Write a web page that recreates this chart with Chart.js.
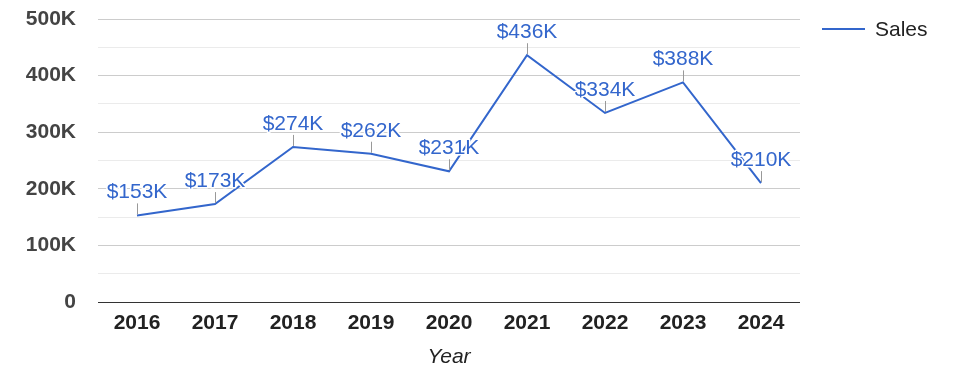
<!DOCTYPE html>
<html>
<head>
<meta charset="utf-8">
<script src="https://cdn.jsdelivr.net/npm/chart.js@4/dist/chart.umd.min.js"></script>
<style>
html,body{margin:0;padding:0;background:#fff;}
#wrap{width:975px;height:378px;position:relative;}
</style>
</head>
<body>
<div id="wrap"><canvas id="c" width="975" height="378"></canvas></div>
<script>
const years = ['2016','2017','2018','2019','2020','2021','2022','2023','2024'];
const sales = [153000, 173000, 274000, 262000, 231000, 436000, 334000, 388000, 210000];
const seriesName = 'Sales';
const axisTitle = 'Year';
const yMin = 0, yMax = 500000, yMinorStep = 50000, yMajorStep = 100000;

const FONT = "'Liberation Sans', Arial, Helvetica, sans-serif";
const BLUE = '#3366cc';

function fmtK(v){ return v === 0 ? '0' : (v/1000) + 'K'; }
function fmtMoney(v){ return '$' + Math.round(v/1000) + 'K'; }

const annotations = {
  id: 'annotations',
  afterDatasetsDraw(chart){
    const ctx = chart.ctx;
    const meta = chart.getDatasetMeta(0);
    const data = chart.data.datasets[0].data;
    ctx.save();
    meta.data.forEach((pt, i) => {
      const x = Math.round(pt.x) + 0.5, y = pt.y;
      ctx.strokeStyle = '#999999';
      ctx.lineWidth = 1;
      ctx.beginPath();
      ctx.moveTo(x, y - 1);
      ctx.lineTo(x, y - 12);
      ctx.stroke();
      ctx.font = '21px ' + FONT;
      ctx.textAlign = 'center';
      ctx.textBaseline = 'alphabetic';
      ctx.lineJoin = 'round';
      ctx.strokeStyle = '#ffffff';
      ctx.lineWidth = 3;
      const t = fmtMoney(data[i]);
      ctx.strokeText(t, pt.x, y - 17);
      ctx.fillStyle = BLUE;
      ctx.fillText(t, pt.x, y - 17);
    });
    ctx.restore();
  }
};

const sideLegend = {
  id: 'sideLegend',
  afterDraw(chart){
    const ctx = chart.ctx;
    const ds = chart.data.datasets[0];
    const area = chart.chartArea;
    const lx = area.right + 22, ly = area.top + 10;
    ctx.save();
    ctx.strokeStyle = ds.borderColor;
    ctx.lineWidth = 2;
    ctx.beginPath();
    ctx.moveTo(lx, ly);
    ctx.lineTo(lx + 43, ly);
    ctx.stroke();
    ctx.font = '21px ' + FONT;
    ctx.fillStyle = '#222222';
    ctx.textAlign = 'left';
    ctx.textBaseline = 'middle';
    ctx.fillText(ds.label, lx + 53, ly + 1);
    ctx.restore();
  }
};

new Chart(document.getElementById('c'), {
  type: 'line',
  data: {
    labels: years,
    datasets: [{
      label: seriesName,
      data: sales,
      borderColor: BLUE,
      backgroundColor: BLUE,
      borderWidth: 2,
      pointRadius: 0,
      pointHoverRadius: 0,
      tension: 0,
      fill: false
    }]
  },
  options: {
    responsive: false,
    animation: false,
    devicePixelRatio: 1,
    layout: { padding: { left: 0, right: 175, top: 19, bottom: 0 } },
    plugins: { legend: { display: false }, tooltip: { enabled: false } },
    scales: {
      x: {
        offset: true,
        grid: { display: false, drawTicks: false },
        border: { display: false },
        ticks: { color: '#222222', font: { family: FONT, size: 21, weight: 'bold' }, padding: 9, maxRotation: 0 },
        title: { display: true, text: axisTitle, color: '#222222', font: { family: FONT, size: 21, style: 'italic' }, padding: { top: 8, bottom: 8 } },
        afterFit(scale){ scale.height = 76; scale.paddingLeft = 0; scale.paddingRight = 0; }
      },
      y: {
        min: yMin, max: yMax,
        ticks: {
          stepSize: yMinorStep,
          autoSkip: false,
          color: '#444444',
          font: { family: FONT, size: 21, weight: 'bold' },
          padding: 22,
          callback: (v) => (v % yMajorStep === 0 ? fmtK(v) : '')
        },
        grid: {
          drawTicks: false,
          lineWidth: 1,
          color: (c) => c.tick.value === 0 ? '#333333' : (c.tick.value % yMajorStep === 0 ? '#cccccc' : '#ebebeb')
        },
        border: { display: false },
        afterFit(scale){ scale.width = 98; scale.paddingTop = 0; scale.paddingBottom = 0; }
      }
    }
  },
  plugins: [annotations, sideLegend]
});
</script>
</body>
</html>
